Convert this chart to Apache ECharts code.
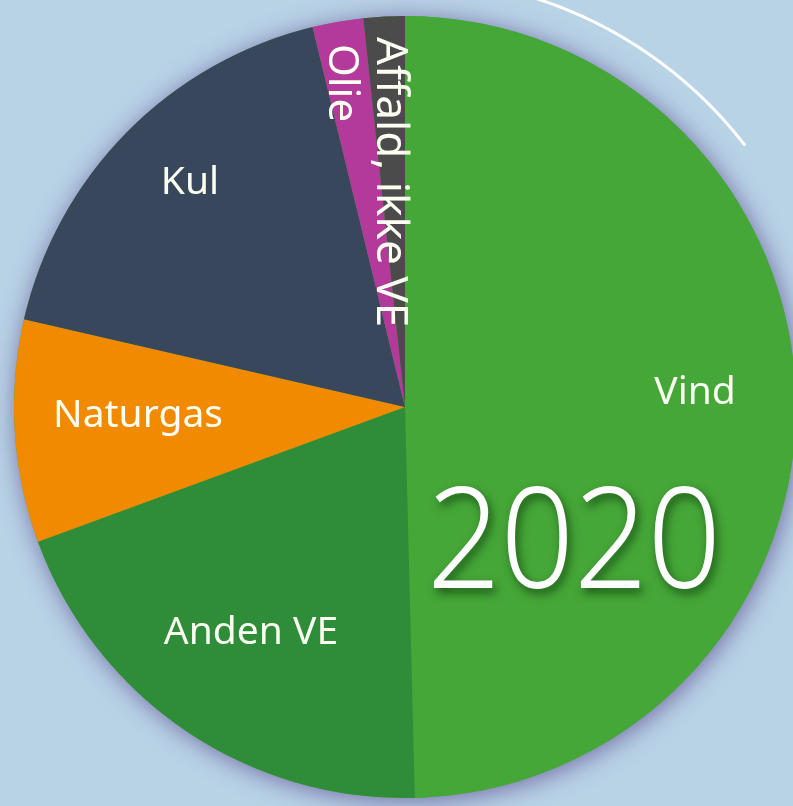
<!DOCTYPE html>
<html>
<head>
<meta charset="utf-8">
<script src="https://cdn.jsdelivr.net/npm/echarts@6/dist/echarts.min.js"></script>
<style>
html,body{margin:0;padding:0;background:#b8d3e6;}
#c{width:793px;height:806px;}
</style>
</head>
<body>
<div id="c"></div>
<script>
// Data (shares, percent of total)
const categories = ['Vind', 'Anden VE', 'Naturgas', 'Kul', 'Olie', 'Affald, ikke VE'];
const values = [49.6, 19.8, 9.2, 17.6, 2.1, 1.7];
const yearLabel = '2020';

const colors = ['#45a737', '#2f8c38', '#f28a00', '#38475c', '#b3399b', '#4b4b4b'];
// label anchor positions (px) and rotation per slice
const labelPos = [
  {x: 695, y: 393, r: 0, fs: 39},
  {x: 251, y: 633, r: 0, fs: 39},
  {x: 138, y: 416, r: 0, fs: 39},
  {x: 190, y: 183, r: 0, fs: 39},
  {x: 341, y: 83, r: -90, fs: 42},
  {x: 390, y: 182, r: -90, fs: 44}
];

const CX = 405, CY = 407, R = 391;

const chart = echarts.init(document.getElementById('c'), null, {renderer: 'canvas'});
chart.setOption({
  backgroundColor: '#b8d3e6',
  animation: false,
  series: [
    {
      type: 'pie',
      silent: true,
      center: [CX, CY],
      radius: [0, R],
      startAngle: 90,
      label: {show: false},
      labelLine: {show: false},
      itemStyle: {color: '#45a737', shadowBlur: 24, shadowColor: 'rgba(70,40,120,0.6)', shadowOffsetX: 2, shadowOffsetY: 3},
      data: [{value: 1, name: 'shadow'}],
      z: 1
    },
    {
      type: 'pie',
      silent: true,
      center: [CX, CY],
      radius: [0, R],
      startAngle: 90,
      clockwise: true,
      avoidLabelOverlap: false,
      emphasis: {disabled: true},
      itemStyle: {borderWidth: 0},
      label: {
        show: true,
        position: 'inside',
        color: '#fbfff2',
        fontFamily: 'Noto Sans',
        fontSize: 39,
        formatter: p => p.name
      },
      labelLine: {show: false},
      labelLayout: function (params) {
        const lp = labelPos[params.dataIndex];
        return {x: lp.x, y: lp.y, rotate: lp.r, align: 'center', verticalAlign: 'middle', fontSize: lp.fs};
      },
      data: categories.map((c, i) => ({name: c, value: values[i], itemStyle: {color: colors[i]}})),
      z: 2
    }
  ],
  graphic: [
    {
      type: 'arc',
      silent: true,
      shape: {cx: CX, cy: CY, r: 429, startAngle: (16.0 - 90) * Math.PI / 180, endAngle: (52.3 - 90) * Math.PI / 180},
      style: {stroke: '#ffffff', lineWidth: 3, fill: null, lineCap: 'round'},
      z: 10
    },
    {
      type: 'text',
      silent: true,
      x: 574, y: 548,
      scaleX: 0.92,
      style: {
        text: yearLabel,
        fill: '#ffffff',
        fontFamily: 'Noto Sans',
        fontWeight: 300,
        fontSize: 140,
        align: 'center',
        verticalAlign: 'middle',
        textShadowColor: 'rgba(10,50,10,0.7)',
        textShadowBlur: 10,
        textShadowOffsetX: 3,
        textShadowOffsetY: 5
      },
      z: 20
    }
  ]
});
</script>
</body>
</html>
